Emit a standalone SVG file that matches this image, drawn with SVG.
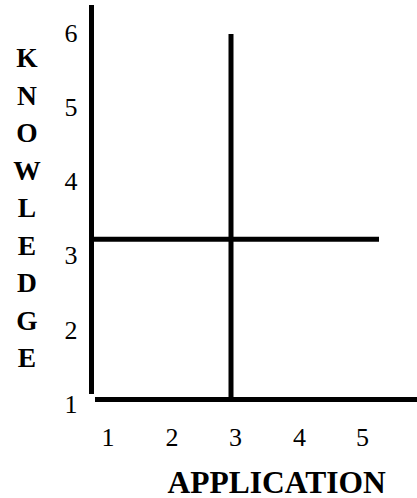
<svg xmlns="http://www.w3.org/2000/svg" width="417" height="498" viewBox="0 0 417 498">
<style>
.ln{stroke:#000;stroke-width:5;fill:none}
.num{font-family:"Liberation Serif","Times New Roman",serif;font-size:26px;fill:#000;text-anchor:middle}
.lbl{font-family:"Liberation Serif","Times New Roman",serif;font-weight:bold;font-size:27.5px;fill:#000;text-anchor:middle}
.title{font-family:"Liberation Serif","Times New Roman",serif;font-weight:bold;font-size:31.5px;fill:#000;text-anchor:middle}
</style>
<rect width="417" height="498" fill="#fff"/>
<g id="axes">
<line class="ln" x1="91.5" y1="5" x2="91.5" y2="394"/>
<line class="ln" x1="95" y1="399.5" x2="417" y2="399.5"/>
</g>
<g id="quadrant-lines">
<line class="ln" x1="231" y1="34" x2="231" y2="399"/>
<line class="ln" x1="94" y1="239.3" x2="379" y2="239.3"/>
</g>
<g id="y-ticks">
<text class="num" x="71" y="42">6</text>
<text class="num" x="71" y="116">5</text>
<text class="num" x="71" y="190">4</text>
<text class="num" x="71" y="264">3</text>
<text class="num" x="71" y="339">2</text>
<text class="num" x="71" y="413">1</text>
</g>
<g id="x-ticks">
<text class="num" x="108" y="445.5">1</text>
<text class="num" x="172" y="445.5">2</text>
<text class="num" x="235.5" y="445.5">3</text>
<text class="num" x="299.5" y="445.5">4</text>
<text class="num" x="362.5" y="445.5">5</text>
</g>
<g id="y-label">
<text class="lbl" x="27" y="67">K</text>
<text class="lbl" x="27" y="104.5">N</text>
<text class="lbl" x="27" y="142">O</text>
<text class="lbl" x="27" y="179.5">W</text>
<text class="lbl" x="27" y="217">L</text>
<text class="lbl" x="27" y="254.5">E</text>
<text class="lbl" x="27" y="292">D</text>
<text class="lbl" x="27" y="329.5">G</text>
<text class="lbl" x="27" y="367">E</text>
</g>
<g id="x-label">
<text class="title" x="276.7" y="493">APPLICATION</text>
</g>
</svg>
